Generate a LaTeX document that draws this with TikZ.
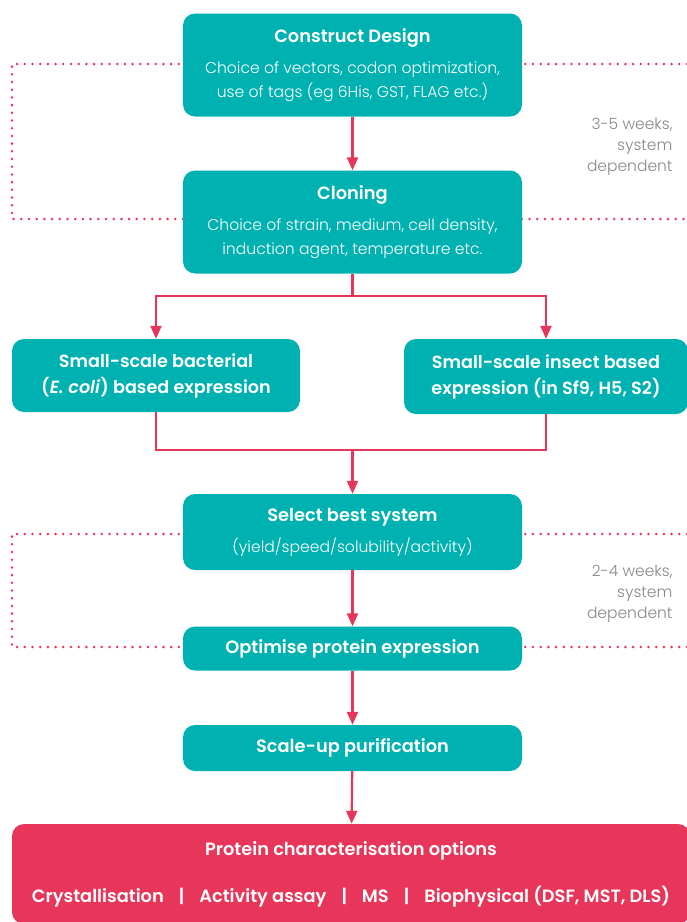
\documentclass[tikz,border=0pt]{standalone}
\usepackage{fontspec}
\setmainfont{Poppins}[UprightFont=* Light, ItalicFont=* Light Italic, BoldFont=* SemiBold, BoldItalicFont=* SemiBold Italic]
\usetikzlibrary{arrows.meta}
\definecolor{boxteal}{RGB}{0,177,177}
\definecolor{flowpink}{RGB}{232,53,90}
\definecolor{notegray}{RGB}{135,135,135}
\begin{document}
\begin{tikzpicture}[
    x=1pt, y=-1pt,
    tealbox/.style={fill=boxteal, rounded corners=12pt, text=white, align=center,
        minimum width=339pt, inner sep=0pt, font=\fontsize{15.6}{24}\selectfont},
    pinkbox/.style={tealbox, fill=flowpink},
    flow/.style={draw=flowpink, line width=2.2pt},
    flowarrow/.style={flow, -{Triangle[length=13pt,width=11pt]}},
    dotline/.style={draw=flowpink, line width=2.8pt, line cap=round, dash pattern=on 0pt off 7.7pt},
    note/.style={text=notegray, align=right, anchor=east, font=\fontsize{15.5}{21}\selectfont},
]
\useasboundingbox (0,0) rectangle (687,922);

\draw[dotline] (687,64) -- (12,64) -- (12,219) -- (687,219);
\draw[dotline] (687,534) -- (12,534) -- (12,647) -- (687,647);

\node[tealbox, minimum height=103pt] (construct) at (352.5,65)
    {{\bfseries\fontsize{17.8}{24}\selectfont Construct Design}\\[7pt]
     Choice of vectors, codon optimization,\\use of tags (eg 6His, GST, FLAG etc.)};
\node[tealbox, minimum height=103pt] (cloning) at (352.5,222)
    {{\bfseries\fontsize{17.8}{24}\selectfont Cloning}\\[7pt]
     Choice of strain, medium, cell density,\\induction agent, temperature etc.};
\node[tealbox, minimum width=288pt, minimum height=73pt, font=\bfseries\fontsize{17.6}{26}\selectfont]
    (bacterial) at (156,375.5)
    {Small-scale bacterial\\(\textit{E. coli}) based expression};
\node[tealbox, minimum width=284pt, minimum height=75pt, font=\bfseries\fontsize{17.6}{26}\selectfont]
    (insect) at (546,376.5)
    {Small-scale insect based\\expression (in Sf9, H5, S2)};
\node[tealbox, minimum height=76pt] (select) at (352.5,532)
    {{\bfseries\fontsize{17.8}{24}\selectfont Select best system}\\[7pt]
     (yield/speed/solubility/activity)};
\node[tealbox, minimum height=44pt, font=\bfseries\fontsize{17.8}{24}\selectfont]
    (optimise) at (352.5,648.5) {Optimise protein expression};
\node[tealbox, minimum height=46pt, font=\bfseries\fontsize{17.8}{24}\selectfont]
    (scaleup) at (352.5,748) {Scale-up purification};
\node[pinkbox, minimum width=678pt, minimum height=100pt, font=\bfseries\fontsize{17.8}{24}\selectfont]
    (characterise) at (351,874)
    {Protein characterisation options\\[23pt]
     Crystallisation\hspace{15pt}|\hspace{15pt}Activity assay\hspace{15pt}|\hspace{15pt}MS\hspace{15pt}|\hspace{15pt}Biophysical (DSF, MST, DLS)};

\node[note] (firstnote) at (676,147) {3-5 weeks,\\system\\dependent};
\node[note] (secondnote) at (676,594) {2-4 weeks,\\system\\dependent};

\coordinate (split) at (352.5,296);
\coordinate (merge) at (352.5,450);
\draw[flowarrow] (construct) -- (cloning);
\draw[flow] (cloning) -- (split);
\draw[flowarrow] (split) -| (bacterial);
\draw[flowarrow] (split) -| (insect);
\draw[flow] (bacterial) |- (merge) -| (insect);
\draw[flowarrow] (merge) -- (select);
\draw[flowarrow] (select) -- (optimise);
\draw[flowarrow] (optimise) -- (scaleup);
\draw[flowarrow] (scaleup) -- (characterise);
\end{tikzpicture}
\end{document}
